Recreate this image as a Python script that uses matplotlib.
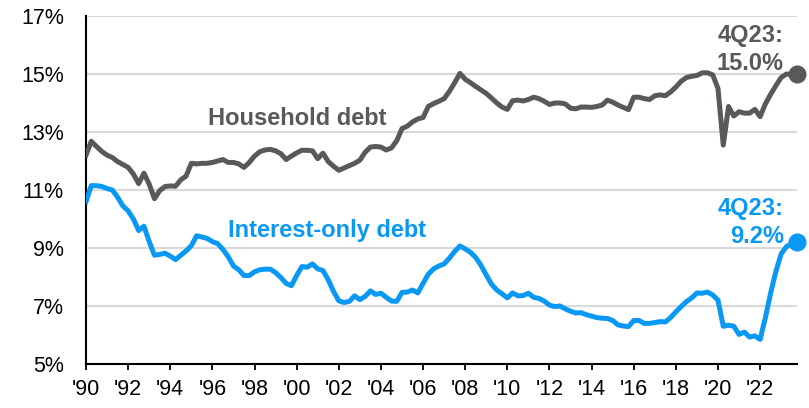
import numpy as np
import matplotlib.pyplot as plt

plt.rcParams['font.family'] = ['Liberation Sans', 'DejaVu Sans']

# quarterly, 1Q90 .. 4Q23
years = list(range(1990, 2024))

household_debt = [
    12.20, 12.68, 12.50, 12.33,  # 1990
    12.20, 12.12, 11.98, 11.88,
    11.78, 11.55, 11.22, 11.58,
    11.20, 10.70, 10.98, 11.12,
    11.14, 11.13, 11.35, 11.48,
    11.92, 11.90, 11.92, 11.92,  # 1995
    11.95, 12.00, 12.05, 11.95,
    11.95, 11.90, 11.78, 11.95,
    12.17, 12.32, 12.38, 12.40,
    12.35, 12.25, 12.05, 12.17,
    12.28, 12.37, 12.37, 12.35,  # 2000
    12.08, 12.27, 11.98, 11.82,
    11.68, 11.76, 11.84, 11.92,
    12.03, 12.30, 12.48, 12.50,
    12.48, 12.38, 12.45, 12.70,
    13.12, 13.20, 13.35, 13.45,  # 2005
    13.50, 13.88, 13.98, 14.06,
    14.15, 14.40, 14.70, 15.02,
    14.82, 14.70, 14.57, 14.45,
    14.33, 14.17, 14.00, 13.86,
    13.78, 14.08, 14.10, 14.07,  # 2010
    14.12, 14.20, 14.15, 14.06,
    13.95, 14.00, 14.00, 13.97,
    13.82, 13.80, 13.86, 13.86,
    13.85, 13.88, 13.93, 14.10,
    14.03, 13.93, 13.85, 13.77,  # 2015
    14.20, 14.20, 14.15, 14.12,
    14.25, 14.28, 14.25, 14.38,
    14.55, 14.75, 14.88, 14.92,
    14.95, 15.04, 15.04, 14.97,
    14.50, 12.55, 13.88, 13.55,  # 2020
    13.70, 13.65, 13.65, 13.78,
    13.53, 13.97, 14.30, 14.60,
    14.88, 15.00, 14.98, 15.00,
]

interest_only_debt = [
    10.60, 11.15, 11.15, 11.12,  # 1990
    11.05, 11.00, 10.75, 10.45,
    10.28, 10.00, 9.60, 9.75,
    9.22, 8.75, 8.78, 8.82,
    8.72, 8.60, 8.75, 8.90,
    9.08, 9.42, 9.38, 9.33,  # 1995
    9.22, 9.15, 8.95, 8.70,
    8.38, 8.25, 8.05, 8.05,
    8.18, 8.25, 8.27, 8.27,
    8.15, 7.98, 7.78, 7.70,
    8.05, 8.36, 8.34, 8.45,  # 2000
    8.28, 8.22, 7.90, 7.50,
    7.18, 7.12, 7.16, 7.35,
    7.22, 7.33, 7.52, 7.40,
    7.44, 7.30, 7.17, 7.16,
    7.47, 7.48, 7.55, 7.45,  # 2005
    7.78, 8.10, 8.28, 8.38,
    8.45, 8.65, 8.88, 9.07,
    8.97, 8.85, 8.67, 8.40,
    8.07, 7.75, 7.55, 7.42,
    7.28, 7.45, 7.35, 7.36,  # 2010
    7.44, 7.30, 7.26, 7.17,
    7.03, 6.98, 7.00, 6.90,
    6.82, 6.76, 6.77, 6.70,
    6.65, 6.60, 6.58, 6.57,
    6.50, 6.35, 6.31, 6.29,  # 2015
    6.50, 6.50, 6.40, 6.40,
    6.43, 6.46, 6.45, 6.60,
    6.80, 6.98, 7.15, 7.28,
    7.45, 7.44, 7.48, 7.38,
    7.20, 6.30, 6.34, 6.30,  # 2020
    6.02, 6.10, 5.93, 5.97,
    5.85, 6.60, 7.45, 8.20,
    8.80, 9.05, 9.15, 9.20,
]

tick_years = years[::2]
tick_labels = ["'" + str(y)[2:] for y in tick_years]
y_ticks = [5, 7, 9, 11, 13, 15, 17]

GRAY = "#58595b"
BLUE = "#0a98f5"

fig = plt.figure(figsize=(8.09, 4.08), dpi=100)
ax = fig.add_axes([86 / 809, 1 - 364 / 408, (797 - 86) / 809, (364 - 16) / 408])

q = np.arange(len(household_debt))
ax.plot(q, household_debt, color=GRAY, lw=3.6, solid_joinstyle="round", zorder=3)
ax.plot(q, interest_only_debt, color=BLUE, lw=3.6, solid_joinstyle="round", zorder=3)

# end-point markers
ax.plot(q[-1], household_debt[-1], "o", color=GRAY, ms=12, zorder=4, clip_on=False)
ax.plot(q[-1], interest_only_debt[-1], "o", color=BLUE, ms=12, zorder=4, clip_on=False)

ax.set_xlim(0, len(q) - 1)
ax.set_ylim(5, 17)

ax.set_yticks(y_ticks)
ax.set_yticklabels([f"{v}%" for v in y_ticks])
ax.set_xticks([(y - years[0]) * 4 for y in tick_years])
ax.set_xticklabels(tick_labels)

ax.yaxis.grid(True, color="#d9d9d9", lw=1.5, zorder=0)
ax.set_axisbelow(True)
for s in ("top", "right"):
    ax.spines[s].set_visible(False)
for s in ("left", "bottom"):
    ax.spines[s].set_linewidth(1.5)
    ax.spines[s].set_color("black")

ax.tick_params(axis="y", length=0, pad=16, labelsize=15.5, colors="black")
ax.tick_params(axis="x", length=4.5, width=1.3, pad=6, labelsize=15.5, colors="black")

bold = dict(fontsize=17, fontweight="bold", va="baseline")
ax.text(23.1, 13.24, "Household debt", color=GRAY, ha="left", **bold)
ax.text(26.9, 9.38, "Interest-only debt", color=BLUE, ha="left", **bold)

# latest-value callouts
last = "4Q23:"
ax.text(132.5, 16.10, last, color=GRAY, ha="right", **bold)
ax.text(132.5, 15.14, f"{household_debt[-1]:.1f}%", color=GRAY, ha="right", **bold)
ax.text(132.5, 10.14, last, color=BLUE, ha="right", **bold)
ax.text(132.5, 9.17, f"{interest_only_debt[-1]:.1f}%", color=BLUE, ha="right", **bold)

fig.savefig("out.png", dpi=100)
